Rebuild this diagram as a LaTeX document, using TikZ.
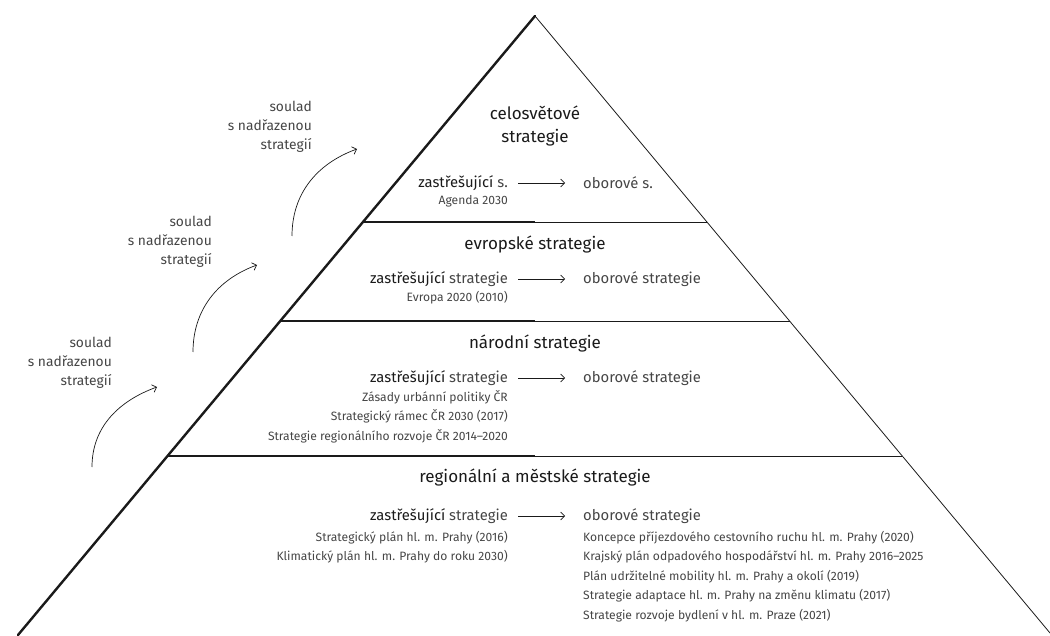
\documentclass[tikz,border=0pt]{standalone}
\usepackage{fontspec}
\setmainfont{Fira Sans}
\usetikzlibrary{arrows.meta,positioning}

\definecolor{ink}{HTML}{1A1A1A}
\definecolor{greytext}{HTML}{454545}

\begin{document}
\begin{tikzpicture}[x=1pt,y=-1pt,
  heavy/.style={line width=2.4pt, ink},
  light/.style={line width=0.8pt, ink},
  head/.style={font=\fontsize{17}{23}\selectfont, text=ink, align=center, inner sep=0pt},
  rowtext/.style={font=\fontsize{14.8}{17}\selectfont, text=greytext, inner sep=0pt},
  sublist/.style={font=\fontsize{12.1}{19.5}\selectfont, text=greytext, inner sep=0pt},
  note/.style={font=\fontsize{13.8}{19}\selectfont, text=greytext, align=right, inner sep=0pt, anchor=north east},
  flow/.style={line width=0.7pt, ink, -{Straight Barb[length=4pt,width=8pt]}},
  curvearrow/.style={line width=0.7pt, ink, -{Straight Barb[length=4pt,width=8pt]}}]
\useasboundingbox (0,0) rectangle (1050,636);

% pyramid
\coordinate (apex) at (535,16);
\coordinate (baseL) at (18,635);
\coordinate (baseR) at (1050,633);
\draw[heavy, line cap=round] (baseL) -- (apex);
\draw[light] (apex) -- (baseR);
\foreach \y/\l/\r in {222/363/707, 321/280/790, 456/168/902}{
  \draw[heavy] (\l,\y) -- (535,\y);
  \draw[light] (535,\y) -- (\r,\y);
}

% levels
\node[head] (world) at (535,126) {celosvětové\\strategie};
\node[rowtext, anchor=east] (umbW) at (508,183) {\textcolor{ink}{zastřešující} s.};
\node[rowtext, anchor=west] (secW) at (583,183) {oborové s.};
\node[sublist, anchor=north east] (listW) at (508,195) {Agenda 2030};

\node[head] (europe) at (535,245) {evropské strategie};
\node[rowtext, anchor=east] (umbE) at (508,279) {\textcolor{ink}{zastřešující} strategie};
\node[rowtext, anchor=west] (secE) at (583,279) {oborové strategie};
\node[sublist, anchor=north east] (listE) at (508,291) {Evropa 2020 (2010)};

\node[head] (nation) at (535,344) {národní strategie};
\node[rowtext, anchor=east] (umbN) at (508,378) {\textcolor{ink}{zastřešující} strategie};
\node[rowtext, anchor=west] (secN) at (583,378) {oborové strategie};
\node[sublist, anchor=north east, align=right] (listN) at (508,390)
  {Zásady urbánní politiky ČR\\Strategický rámec ČR 2030 (2017)\\Strategie regionálního rozvoje ČR 2014–2020};

\node[head] (region) at (535,478) {regionální a městské strategie};
\node[rowtext, anchor=east] (umbR) at (508,516) {\textcolor{ink}{zastřešující} strategie};
\node[rowtext, anchor=west] (secR) at (583,516) {oborové strategie};
\node[sublist, anchor=north east, align=right] (listRa) at (508,531)
  {Strategický plán hl. m. Prahy (2016)\\Klimatický plán hl. m. Prahy do roku 2030)};
\node[sublist, anchor=north west, align=left] (listRb) at (583,531)
  {Koncepce příjezdového cestovního ruchu hl. m. Prahy (2020)\\Krajský plán odpadového hospodářství hl. m. Prahy 2016–2025\\Plán udržitelné mobility hl. m. Prahy a okolí (2019)\\Strategie adaptace hl. m. Prahy na změnu klimatu (2017)\\Strategie rozvoje bydlení v hl. m. Praze (2021)};

\foreach \lv in {W,E,N,R}
  \draw[flow] ([xshift=10pt]umb\lv.east) -- ([xshift=-18pt]sec\lv.west);

% alignment with the higher level
\node[note] (noteA) at (312,101) {soulad\\s nadřazenou\\strategií};
\node[note] (noteB) at (212,216) {soulad\\s nadřazenou\\strategií};
\node[note] (noteC) at (112,337) {soulad\\s nadřazenou\\strategií};
\coordinate (fromA) at (292,236); \coordinate (toA) at (357,149);
\coordinate (fromB) at (193,352); \coordinate (toB) at (257,265);
\coordinate (fromC) at (92,467);  \coordinate (toC) at (157,387);
\draw[curvearrow] (fromA) to[out=90, in=200] (toA);
\draw[curvearrow] (fromB) to[out=90, in=200] (toB);
\draw[curvearrow] (fromC) to[out=90, in=200] (toC);
\end{tikzpicture}
\end{document}
